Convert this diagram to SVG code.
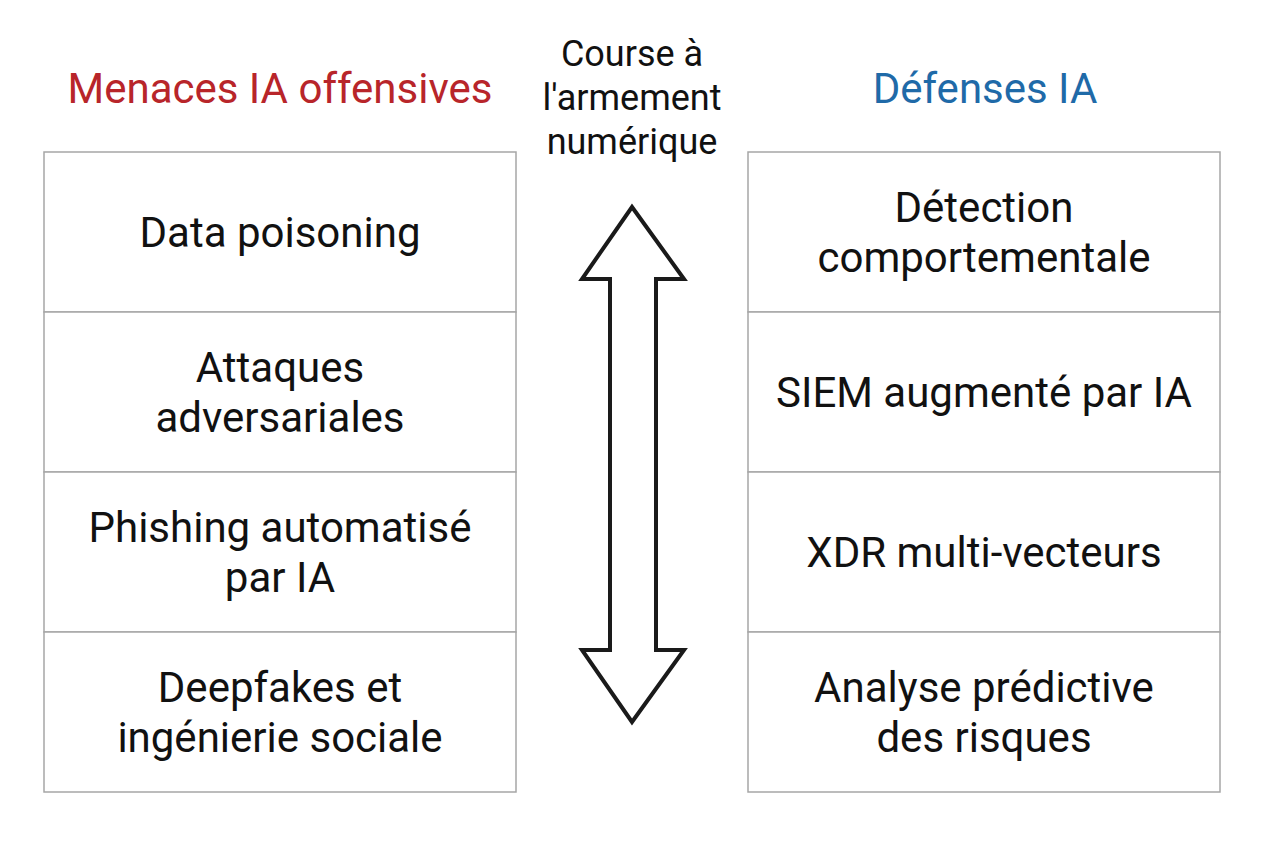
<svg xmlns="http://www.w3.org/2000/svg" width="1264" height="848" viewBox="0 0 1264 848">
<style>
.box{fill:#fff;stroke:#a6a6a6;stroke-width:1.5}
.t{font-family:Roboto,"Liberation Sans",sans-serif;font-size:42px;fill:#111;text-anchor:middle}
.s{font-family:Roboto,"Liberation Sans",sans-serif;font-size:36px;fill:#111;text-anchor:middle}
.h{font-family:Roboto,"Liberation Sans",sans-serif;font-size:42px;text-anchor:middle}
</style>
<rect width="1264" height="848" fill="#fff"/>
<text class="h" x="280" y="103" fill="#b8252a">Menaces IA offensives</text>
<text class="h" x="985" y="103" fill="#1f6aa8">Défenses IA</text>
<g id="title"><text class="s" x="632" y="66">Course à</text><text class="s" x="632" y="110">l'armement</text><text class="s" x="632" y="154">numérique</text></g>
<g id="l1"><rect class="box" x="44" y="152" width="472" height="160"/><text class="t" x="280" y="247">Data poisoning</text></g>
<g id="l2"><rect class="box" x="44" y="312" width="472" height="160"/><text class="t" x="280" y="382">Attaques</text><text class="t" x="280" y="432">adversariales</text></g>
<g id="l3"><rect class="box" x="44" y="472" width="472" height="160"/><text class="t" x="280" y="542">Phishing automatisé</text><text class="t" x="280" y="592">par IA</text></g>
<g id="l4"><rect class="box" x="44" y="632" width="472" height="160"/><text class="t" x="280" y="702">Deepfakes et</text><text class="t" x="280" y="752">ingénierie sociale</text></g>
<g id="r1"><rect class="box" x="748" y="152" width="472" height="160"/><text class="t" x="984" y="222">Détection</text><text class="t" x="984" y="272">comportementale</text></g>
<g id="r2"><rect class="box" x="748" y="312" width="472" height="160"/><text class="t" x="984" y="407">SIEM augmenté par IA</text></g>
<g id="r3"><rect class="box" x="748" y="472" width="472" height="160"/><text class="t" x="984" y="567">XDR multi-vecteurs</text></g>
<g id="r4"><rect class="box" x="748" y="632" width="472" height="160"/><text class="t" x="984" y="702">Analyse prédictive</text><text class="t" x="984" y="752">des risques</text></g>
<g id="connectors"><path d="M632 207 L684 279 L656 279 L656 650 L684 650 L632 722 L582 650 L610 650 L610 279 L582 279 Z" fill="#fff" stroke="#1a1a1a" stroke-width="4" stroke-linejoin="miter"/></g>
</svg>
